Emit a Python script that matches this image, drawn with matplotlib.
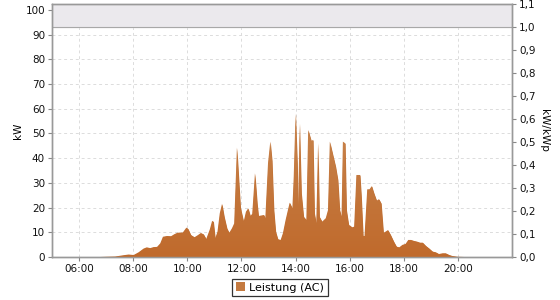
import numpy as np
import matplotlib
matplotlib.use("Agg")
import matplotlib.pyplot as plt
from matplotlib.patches import Patch

# Leistung (AC) readings, time of day -> kW
times = ["06:47", "07:02", "07:20", "07:38", "07:50", "08:01", "08:12", "08:23", "08:30", "08:38",
         "08:45", "08:53", "09:00", "09:06", "09:15", "09:24", "09:31", "09:38", "09:44", "09:50",
         "09:58", "10:02", "10:08", "10:16", "10:23", "10:30", "10:36", "10:42", "10:50", "10:55",
         "10:58", "11:02", "11:07", "11:12", "11:17", "11:22", "11:28", "11:33", "11:39", "11:44",
         "11:50", "11:58", "12:05", "12:10", "12:15", "12:20", "12:24", "12:30", "12:35", "12:38",
         "12:50", "12:53", "12:59", "13:04", "13:08", "13:12", "13:16", "13:21", "13:27", "13:32",
         "13:38", "13:44", "13:47", "13:53", "13:56", "14:00", "14:04", "14:06", "14:09", "14:13",
         "14:18", "14:24", "14:28", "14:35", "14:39", "14:42", "14:46", "14:50", "14:53", "14:59",
         "15:07", "15:12", "15:16", "15:22", "15:29", "15:34", "15:38", "15:42", "15:45", "15:50",
         "15:53", "15:58", "16:06", "16:10", "16:15", "16:23", "16:26", "16:30", "16:33", "16:39",
         "16:44", "16:49", "16:54", "17:00", "17:05", "17:10", "17:15", "17:20", "17:25", "17:31",
         "17:38", "17:44", "17:50", "17:57", "18:04", "18:10", "18:16", "18:23", "18:30", "18:36",
         "18:42", "18:49", "18:56", "19:04", "19:11", "19:18", "19:26", "19:33", "19:41", "19:48",
         "19:59", "20:14"]
power = [0.0, 0.1, 0.2, 0.7, 1.0, 0.8, 1.9, 3.4, 3.9, 3.6,
         4.0, 4.1, 5.5, 8.2, 8.5, 8.4, 9.2, 9.8, 9.9, 9.9,
         11.9, 11.3, 8.9, 8.0, 8.8, 9.7, 9.2, 7.3, 11.2, 14.6,
         14.3, 7.6, 10.3, 17.7, 21.5, 16.3, 11.6, 9.8, 11.6, 13.6,
         44.3, 20.0, 14.3, 18.3, 19.7, 16.6, 17.5, 33.9, 21.9, 16.6,
         17.0, 15.7, 38.0, 46.7, 39.0, 19.0, 10.3, 7.2, 6.9, 9.6,
         15.0, 19.7, 22.0, 19.7, 32.5, 58.0, 38.0, 20.0, 54.0, 25.8,
         16.3, 15.0, 51.4, 47.0, 47.4, 17.7, 13.6, 46.0, 16.3, 14.3,
         15.7, 19.0, 46.7, 42.0, 36.6, 31.2, 19.0, 16.3, 46.7, 46.0,
         19.0, 13.0, 12.0, 12.3, 33.2, 33.2, 24.4, 8.5, 8.5, 27.4,
         27.4, 28.7, 25.8, 22.8, 23.4, 21.7, 9.8, 10.3, 10.9, 8.9,
         6.2, 4.2, 3.9, 4.9, 5.3, 6.9, 6.9, 6.5, 6.2, 5.8,
         5.8, 4.5, 3.5, 2.2, 1.9, 1.2, 1.5, 1.5, 0.8, 0.4,
         0.1, 0.0]
kwp = 93.0
hour_ticks = [6, 8, 10, 12, 14, 16, 18, 20]

hours = np.array([int(t[:2]) + int(t[3:]) / 60 for t in times])
power = np.array(power)

fig = plt.figure(figsize=(5.6, 3.0), dpi=100)
ax = fig.add_axes([52 / 560, 43 / 300, 460 / 560, 252.7 / 300])
ymax = kwp * 1.1
ax.set_xlim(5, 22)
ax.set_ylim(0, ymax)

grid_c = "#dcdcdc"
for h in hour_ticks:
    ax.axvline(h, color=grid_c, lw=0.7, ls=(0, (3, 3)), zorder=0)
for v in range(10, 101, 10):
    ax.axhline(v, color=grid_c, lw=0.7, ls=(0, (3, 3)), zorder=0)

# band above nominal power
ax.axhspan(kwp, ymax, color="#ebe9ed", zorder=1)
ax.axhline(kwp, color="#a8a8a8", lw=0.8, zorder=1)

# area with slight vertical gradient
poly = ax.fill_between(hours, power, 0, color="#c06e30", lw=0, zorder=2)
grad = np.linspace(0, 1, 256).reshape(-1, 1)
cmap = matplotlib.colors.LinearSegmentedColormap.from_list("g", ["#c06a2c", "#c8864f"])
img = ax.imshow(grad, extent=[5, 22, 0, 60], origin="lower", aspect="auto",
                cmap=cmap, zorder=3)
img.set_clip_path(poly.get_paths()[0], transform=ax.transData)
ax.set_ylim(0, ymax)

ax.set_xticks(hour_ticks)
ax.set_xticklabels([f"{h:02d}:00" for h in hour_ticks])
ax.set_yticks(range(0, 101, 10))
ax.tick_params(axis="both", labelsize=7.5, colors="#111111", length=3, width=0.8, pad=2)
ax.tick_params(axis="both", color="#888888")
ax.set_ylabel("kW", fontsize=7.5, labelpad=2)
for s in ax.spines.values():
    s.set_color("#999999")
    s.set_linewidth(1.0)

ax2 = ax.twinx()
ax2.set_ylim(0, 1.1)
r_ticks = np.round(np.arange(0, 1.11, 0.1), 1)
ax2.set_yticks(r_ticks)
ax2.set_yticklabels([f"{t:.1f}".replace(".", ",") for t in r_ticks])
ax2.tick_params(axis="y", labelsize=7.5, colors="#111111", length=3, width=0.8, pad=2)
ax2.tick_params(axis="y", color="#888888")
ax2.set_ylabel("kW/kWp", fontsize=7.5, rotation=270, labelpad=10)
for s in ax2.spines.values():
    s.set_color("#999999")
    s.set_linewidth(1.0)

handle = Patch(facecolor="#c47a40", edgecolor="none", label="Leistung (AC)")
leg = fig.legend(handles=[handle], loc="center", bbox_to_anchor=(280 / 560, 1 - 287.5 / 300),
                 fontsize=8, frameon=True, fancybox=False, handlelength=0.8, handleheight=0.8,
                 handletextpad=0.4, borderpad=0.35, borderaxespad=0)
leg.get_frame().set_edgecolor("#000000")
leg.get_frame().set_linewidth(0.9)

fig.savefig("out.png", dpi=100)
